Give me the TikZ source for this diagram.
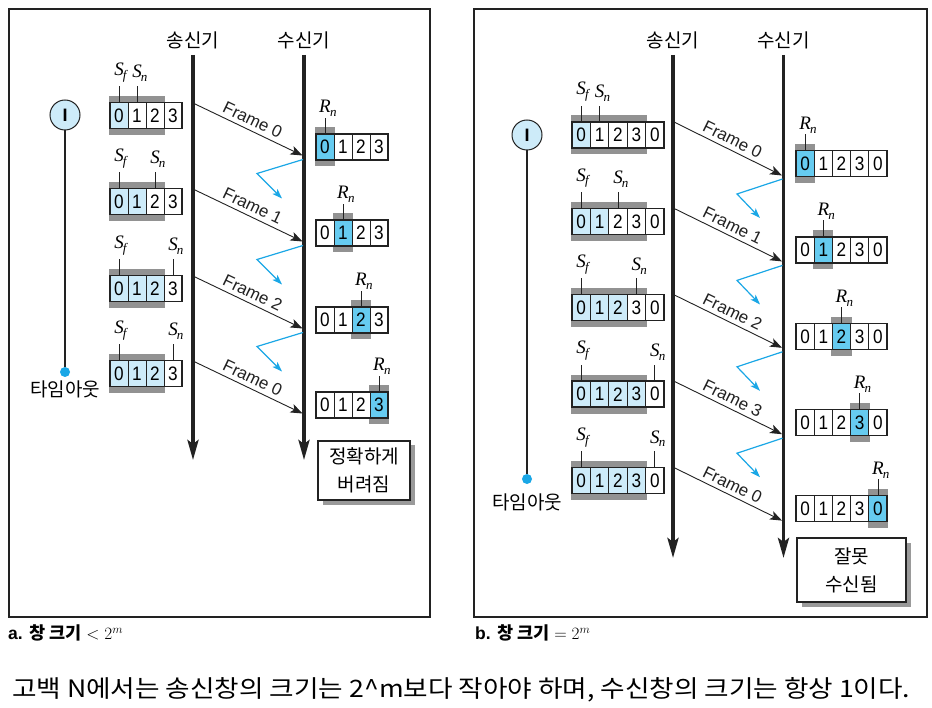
\documentclass[tikz,border=0pt]{standalone}
\usepackage{fontspec}
\setmainfont{Liberation Sans}
\newfontfamily\kr{Noto Sans CJK KR}
\newfontfamily\krwide[FakeStretch=1.11]{Noto Sans CJK KR}
\newfontfamily\tnr{Liberation Serif}
\newfontfamily\dig[FakeStretch=0.88]{Liberation Sans}
\usetikzlibrary{arrows.meta,shadows}
\definecolor{lb}{HTML}{CDEBF9}
\definecolor{rb}{HTML}{66CBF0}
\definecolor{band}{HTML}{929292}
\definecolor{ack}{HTML}{1AA7E6}
\definecolor{dk}{HTML}{222222}
\definecolor{shadowc}{HTML}{9A9A9A}
\newcommand\SL[2]{{\tnr\itshape #1\rlap{\kern-0.8pt\raisebox{-0.45ex}{\fontsize{13}{13}\selectfont #2}}}}
\newcommand\win[6]{%
  \foreach \dg/\fl [count=\ci from 0] in {#6}{
    \node[cell,minimum width=#4pt,fill=\fl] (#1c\ci) at ({#2+(\ci+0.5)*#4},#3) {\dg};
  }
  \draw[dk,line width=1.4pt] (#2,{#3-13}) rectangle ({#2+#5*#4},{#3+13});
}
\newcommand\sband[4]{\fill[band] ({#1-1},{#2-19.5}) rectangle ({#1+#4*#3+1},{#2+19.5});}
\newcommand\rband[4]{\fill[band] ({#1+#4*#3-1},{#2-19.5}) rectangle ({#1+(#4+1)*#3+1},{#2+19.5});}
\newcommand\stick[3]{%
  \draw[tick] (#1.north) -- ++(0,-16) coordinate (#2);
  \node[slab,yshift=4pt] (#2L) at (#2) {#3};
}
\newcommand\rtick[2]{%
  \draw[tick] (#1.north) -- ++(0,-16) coordinate (#2);
  \node[slab,yshift=0.5pt] (#2L) at (#2) {\SL{R}{n}};
}
\begin{document}
\begin{tikzpicture}[x=1pt,y=-1pt,
  cell/.style={draw=dk,line width=0.9pt,minimum height=26pt,inner sep=0pt,font=\dig\fontsize{19.5}{19.5}\selectfont},
  lbl/.style={font=\kr\fontsize{19}{28}\selectfont,inner sep=0pt},
  life/.style={dk,line width=3.5pt,-{Stealth[length=20pt,width=11pt,inset=4pt]}},
  frame/.style={dk,line width=0.9pt,-{Stealth[length=12pt,width=9pt,inset=3pt]}},
  ackarr/.style={ack,line width=1.2pt,-{Stealth[length=10pt,width=7pt,inset=2.5pt]}},
  flab/.style={font=\fontsize{17}{17}\selectfont,inner sep=4pt,sloped,above,midway},
  tick/.style={line width=0.8pt,dk},
  slab/.style={anchor=south,inner sep=0pt,font=\tnr\fontsize{19}{19}\selectfont},
  panel/.style={dk,line width=1.2pt},
  timer/.style={circle,draw=dk,fill=lb,minimum size=30pt,inner sep=0pt,line width=1pt,font=\bfseries\fontsize{18}{18}\selectfont},
  tdot/.style={circle,fill=ack,minimum size=10pt,inner sep=0pt},
  tline/.style={dk,line width=2.5pt},
  note/.style={draw=dk,line width=1.2pt,fill=white,align=center,lbl,
    drop shadow={shadow xshift=4.5pt,shadow yshift=-4.5pt,fill=shadowc,opacity=1}},
  capt/.style={anchor=west,inner sep=0pt,font=\bfseries\fontsize{17.5}{17.5}\selectfont}
]
\useasboundingbox (0,0) rectangle (932,708);
\fill[white] (0,0) rectangle (932,708);

% ================= panel a =================
\draw[panel] (9,9) rectangle (430,617);
\node[lbl] (aSend) at (193,40) {송신기};
\node[lbl] (aRecv) at (304,40) {수신기};
\coordinate (aST) at (193,55);
\coordinate (aSB) at (193,460);
\coordinate (aRT) at (304,55);
\coordinate (aRB) at (304,460);
\draw[life] (aST) -- (aSB);
\draw[life] (aRT) -- (aRB);

% timer
\node[timer] (aT) at (65,115) {I};
\node[tdot] (aD) at (65,372) {};
\draw[tline] (aT) -- (aD);
\node[lbl] (aTL) at (65,389.5) {타임아웃};

% sender windows
\sband{110}{115.5}{18}{3}
\win{aS1}{110}{115.5}{18}{4}{0/lb,1/white,2/white,3/white}
\stick{aS1c0}{aS1f}{\SL{S}{f}}
\stick{aS1c1}{aS1n}{\SL{S}{n}}
\sband{110}{201.5}{18}{3}
\win{aS2}{110}{201.5}{18}{4}{0/lb,1/lb,2/white,3/white}
\stick{aS2c0}{aS2f}{\SL{S}{f}}
\stick{aS2c2}{aS2n}{\SL{S}{n}}
\sband{110}{288.5}{18}{3}
\win{aS3}{110}{288.5}{18}{4}{0/lb,1/lb,2/lb,3/white}
\stick{aS3c0}{aS3f}{\SL{S}{f}}
\stick{aS3c3}{aS3n}{\SL{S}{n}}
\sband{110}{373.5}{18}{3}
\win{aS4}{110}{373.5}{18}{4}{0/lb,1/lb,2/lb,3/white}
\stick{aS4c0}{aS4f}{\SL{S}{f}}
\stick{aS4c3}{aS4n}{\SL{S}{n}}

% receiver windows
\rband{316}{147}{18}{0}
\win{aR1}{316}{147}{18}{4}{0/rb,1/white,2/white,3/white}
\rtick{aR1c0}{aR1r}
\rband{316}{233}{18}{1}
\win{aR2}{316}{233}{18}{4}{0/white,1/rb,2/white,3/white}
\rtick{aR2c1}{aR2r}
\rband{316}{320}{18}{2}
\win{aR3}{316}{320}{18}{4}{0/white,1/white,2/rb,3/white}
\rtick{aR3c2}{aR3r}
\rband{316}{405}{18}{3}
\win{aR4}{316}{405}{18}{4}{0/white,1/white,2/white,3/rb}
\rtick{aR4c3}{aR4r}

% frames
\coordinate (aF1s) at (194,103.5); \coordinate (aF1e) at (302.5,155.5);
\coordinate (aF2s) at (194,189.5); \coordinate (aF2e) at (302.5,241.5);
\coordinate (aF3s) at (194,276.5); \coordinate (aF3e) at (302.5,328.5);
\coordinate (aF4s) at (194,361.5); \coordinate (aF4e) at (302.5,413.5);
\draw[frame] (aF1s) -- node[flab] (aL1) {Frame 0} (aF1e);
\draw[frame] (aF2s) -- node[flab] (aL2) {Frame 1} (aF2e);
\draw[frame] (aF3s) -- node[flab] (aL3) {Frame 2} (aF3e);
\draw[frame] (aF4s) -- node[flab] (aL4) {Frame 0} (aF4e);

% lost acks
\coordinate (aA1s) at (303,159.5); \coordinate (aA1m) at (257,173.5); \coordinate (aA1e) at (282,198.5);
\coordinate (aA2s) at (303,245.5); \coordinate (aA2m) at (257,259.5); \coordinate (aA2e) at (282,284.5);
\coordinate (aA3s) at (303,332.5); \coordinate (aA3m) at (257,346.5); \coordinate (aA3e) at (282,371.5);
\draw[ackarr] (aA1s) -- (aA1m) -- (aA1e);
\draw[ackarr] (aA2s) -- (aA2m) -- (aA2e);
\draw[ackarr] (aA3s) -- (aA3m) -- (aA3e);

\node[note,minimum width=92pt,minimum height=59pt] (aBox) at (364,470.5) {정확하게\\버려짐};

\node[capt] (capA) at (8,633) {a. {\kr 창 크기} {\mdseries$<2^m$}};

% ================= panel b =================
\draw[panel] (474,9) rectangle (927,617);
\node[lbl] (bSend) at (673,40) {송신기};
\node[lbl] (bRecv) at (783.5,40) {수신기};
\coordinate (bST) at (673,55);
\coordinate (bSB) at (673,558);
\coordinate (bRT) at (783.5,55);
\coordinate (bRB) at (783.5,558);
\draw[life] (bST) -- (bSB);
\draw[life] (bRT) -- (bRB);

\node[timer] (bT) at (527,135) {I};
\node[tdot] (bD) at (527,479) {};
\draw[tline] (bT) -- (bD);
\node[lbl] (bTL) at (527,502) {타임아웃};

% sender windows
\sband{572}{135}{18.4}{4}
\win{bS1}{572}{135}{18.4}{5}{0/lb,1/white,2/white,3/white,0/white}
\stick{bS1c0}{bS1f}{\SL{S}{f}}
\stick{bS1c1}{bS1n}{\SL{S}{n}}
\sband{572}{221.4}{18.4}{4}
\win{bS2}{572}{221.4}{18.4}{5}{0/lb,1/lb,2/white,3/white,0/white}
\stick{bS2c0}{bS2f}{\SL{S}{f}}
\stick{bS2c2}{bS2n}{\SL{S}{n}}
\sband{572}{307.8}{18.4}{4}
\win{bS3}{572}{307.8}{18.4}{5}{0/lb,1/lb,2/lb,3/white,0/white}
\stick{bS3c0}{bS3f}{\SL{S}{f}}
\stick{bS3c3}{bS3n}{\SL{S}{n}}
\sband{572}{394.2}{18.4}{4}
\win{bS4}{572}{394.2}{18.4}{5}{0/lb,1/lb,2/lb,3/lb,0/white}
\stick{bS4c0}{bS4f}{\SL{S}{f}}
\stick{bS4c4}{bS4n}{\SL{S}{n}}
\sband{572}{480.6}{18.4}{4}
\win{bS5}{572}{480.6}{18.4}{5}{0/lb,1/lb,2/lb,3/lb,0/white}
\stick{bS5c0}{bS5f}{\SL{S}{f}}
\stick{bS5c4}{bS5n}{\SL{S}{n}}

% receiver windows
\rband{796}{163.5}{18.2}{0}
\win{bR1}{796}{163.5}{18.2}{5}{0/rb,1/white,2/white,3/white,0/white}
\rtick{bR1c0}{bR1r}
\rband{796}{249.9}{18.2}{1}
\win{bR2}{796}{249.9}{18.2}{5}{0/white,1/rb,2/white,3/white,0/white}
\rtick{bR2c1}{bR2r}
\rband{796}{336.3}{18.2}{2}
\win{bR3}{796}{336.3}{18.2}{5}{0/white,1/white,2/rb,3/white,0/white}
\rtick{bR3c2}{bR3r}
\rband{796}{422.7}{18.2}{3}
\win{bR4}{796}{422.7}{18.2}{5}{0/white,1/white,2/white,3/rb,0/white}
\rtick{bR4c3}{bR4r}
\rband{796}{508.5}{18.2}{4}
\win{bR5}{796}{508.5}{18.2}{5}{0/white,1/white,2/white,3/white,0/rb}
\rtick{bR5c4}{bR5r}

% frames
\coordinate (bF1s) at (674,122);   \coordinate (bF1e) at (782,175.5);
\coordinate (bF2s) at (674,208.4); \coordinate (bF2e) at (782,261.4);
\coordinate (bF3s) at (674,294.8); \coordinate (bF3e) at (782,347.8);
\coordinate (bF4s) at (674,381.2); \coordinate (bF4e) at (782,434.2);
\coordinate (bF5s) at (674,467.6); \coordinate (bF5e) at (782,520.6);
\draw[frame] (bF1s) -- node[flab] (bL1) {Frame 0} (bF1e);
\draw[frame] (bF2s) -- node[flab] (bL2) {Frame 1} (bF2e);
\draw[frame] (bF3s) -- node[flab] (bL3) {Frame 2} (bF3e);
\draw[frame] (bF4s) -- node[flab] (bL4) {Frame 3} (bF4e);
\draw[frame] (bF5s) -- node[flab] (bL5) {Frame 0} (bF5e);

% lost acks
\coordinate (bA1s) at (782.5,179);   \coordinate (bA1m) at (737,194);   \coordinate (bA1e) at (760,218);
\coordinate (bA2s) at (782.5,265.4); \coordinate (bA2m) at (737,280.4); \coordinate (bA2e) at (760,304.4);
\coordinate (bA3s) at (782.5,351.8); \coordinate (bA3m) at (737,366.8); \coordinate (bA3e) at (760,390.8);
\coordinate (bA4s) at (782.5,438.2); \coordinate (bA4m) at (737,453.2); \coordinate (bA4e) at (760,477.2);
\draw[ackarr] (bA1s) -- (bA1m) -- (bA1e);
\draw[ackarr] (bA2s) -- (bA2m) -- (bA2e);
\draw[ackarr] (bA3s) -- (bA3m) -- (bA3e);
\draw[ackarr] (bA4s) -- (bA4m) -- (bA4e);

\node[note,minimum width=109pt,minimum height=64pt] (bBox) at (851.5,570) {잘못\\수신됨};

\node[capt] (capB) at (475,633) {b. {\kr 창 크기} {\mdseries$=2^m$}};

% bottom caption
\node[anchor=west,inner sep=0pt,font=\krwide\fontsize{24}{24}\selectfont] (capMain) at (12,690)
  {고백 N에서는 송신창의 크기는 2\^{}m보다 작아야 하며, 수신창의 크기는 항상 1이다.};
\end{tikzpicture}
\end{document}
